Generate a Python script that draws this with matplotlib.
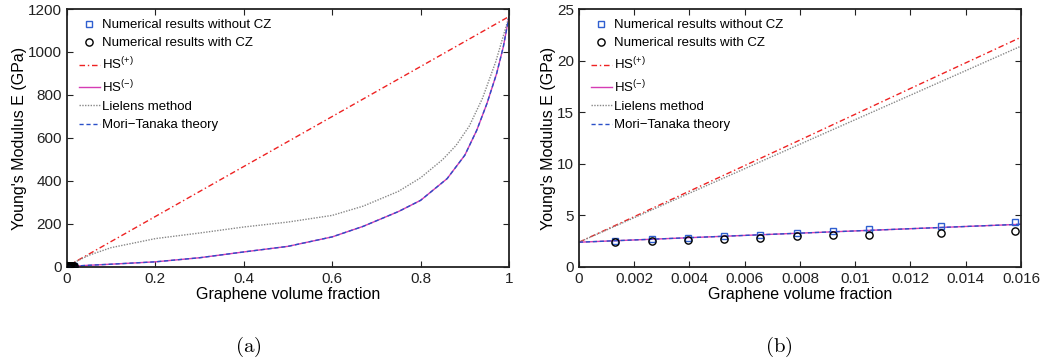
import numpy as np
import matplotlib
matplotlib.use('Agg')
import matplotlib.pyplot as plt
from matplotlib.ticker import FuncFormatter

plt.rcParams['font.family'] = ['Liberation Sans', 'DejaVu Sans']
plt.rcParams['mathtext.fontset'] = 'custom'
plt.rcParams['mathtext.rm'] = 'Liberation Sans'
plt.rcParams['mathtext.it'] = 'Liberation Sans:italic'
plt.rcParams['mathtext.bf'] = 'Liberation Sans:bold'

# --- numerical results (same points in both panels) ---
vf_num = [0.00131, 0.00263, 0.00394, 0.00525, 0.00656, 0.00788, 0.00919, 0.0105, 0.0131, 0.0158]
E_without_cz = [2.55, 2.68, 2.82, 3.00, 3.13, 3.33, 3.46, 3.68, 3.97, 4.38]
E_with_cz = [2.45, 2.55, 2.65, 2.75, 2.85, 2.97, 3.07, 3.13, 3.25, 3.50]

# --- panel (a): full range of volume fraction ---
vf_a_hs = [0.0, 1.0]
E_a_hs_plus = [2.4, 1165.0]
vf_a_li = [0.0, 0.016, 0.05, 0.1, 0.2, 0.3, 0.4, 0.5, 0.6, 0.67, 0.75, 0.8, 0.85,
           0.88, 0.91, 0.94, 0.97, 1.0]
E_a_lielens = [2.4, 21, 55, 90, 132, 158, 186, 209, 240, 283, 352, 415, 500,
               565, 655, 785, 955, 1165]
vf_a_mt = [0.0, 0.016, 0.05, 0.1, 0.2, 0.3, 0.4, 0.5, 0.6, 0.67, 0.75, 0.8, 0.86,
           0.9, 0.927, 0.95, 0.972, 0.987, 1.0]
E_a_mt = [2.4, 4.2, 8, 13, 24, 43, 70, 96, 140, 189, 258, 310, 411,
          520, 636, 760, 900, 1023, 1165]

# --- panel (b): low volume fraction ---
vf_b = [0.0, 0.004, 0.008, 0.012, 0.016]
E_b_hs_plus = [2.4, 7.35, 12.3, 17.3, 22.26]
E_b_lielens = [2.4, 7.15, 11.9, 16.65, 21.4]
E_b_mt = [2.4, 2.84, 3.28, 3.71, 4.14]

c_sq = '#2f5fd0'
c_red = '#ee2222'
c_mag = '#d63cb4'
c_gray = '#888888'
c_mt = '#2a50c8'

fig = plt.figure(figsize=(10.45, 3.63), dpi=100)
ax_a = fig.add_axes([0.0641, 0.2645, 0.423, 0.7107])
ax_b = fig.add_axes([0.554, 0.2645, 0.423, 0.7107])


def dibujar(ax, vf_hs, hs_plus, vf_li, lielens, vf_mt, mt):
    h_hs, = ax.plot(vf_hs, hs_plus, color=c_red, ls=(0, (4, 2, 1, 2)), lw=1.0, label='HS$^{(+)}$')
    h_hsm, = ax.plot(vf_mt, mt, color=c_mag, ls='-', lw=1.0, label='HS$^{(-)}$')
    h_li, = ax.plot(vf_li, lielens, color=c_gray, ls=(0, (1, 1)), lw=1.0, label='Lielens method')
    h_mt, = ax.plot(vf_mt, mt, color=c_mt, ls=(0, (3, 2)), lw=1.0, label='Mori\u2212Tanaka theory')
    h_sq, = ax.plot(vf_num, E_without_cz, ls='none', marker='s', ms=4.2, mfc='none', mec=c_sq,
                    mew=1.0, label='Numerical results without CZ', zorder=4)
    h_ci, = ax.plot(vf_num, E_with_cz, ls='none', marker='o', ms=5.2, mfc='none', mec='black',
                    mew=1.0, label='Numerical results with CZ', zorder=4)
    ax.legend(handles=[h_sq, h_ci, h_hs, h_hsm, h_li, h_mt], loc='upper left',
              bbox_to_anchor=(0.015, 0.982), frameon=False, fontsize=9.5, handlelength=1.6,
              handletextpad=0.15, labelspacing=0.46, borderaxespad=0, numpoints=1)
    ax.tick_params(direction='in', top=True, right=True, length=4, labelsize=11, pad=3.5,
                   colors='#222222')
    for s in ax.spines.values():
        s.set_linewidth(1.3)
        s.set_color('#222222')
    ax.set_xlabel('Graphene volume fraction', fontsize=11.5, labelpad=1)
    ax.set_ylabel("Young's Modulus E (GPa)", fontsize=11.5, labelpad=1)
    ax.xaxis.set_major_formatter(FuncFormatter(lambda v, p: '%g' % round(v, 6)))
    ax.yaxis.set_major_formatter(FuncFormatter(lambda v, p: '%g' % round(v, 6)))


dibujar(ax_a, vf_a_hs, E_a_hs_plus, vf_a_li, E_a_lielens, vf_a_mt, E_a_mt)
ax_a.set_xlim(0, 1)
ax_a.set_ylim(0, 1200)
ax_a.set_xticks(np.arange(0, 1.01, 0.2))
ax_a.set_yticks(np.arange(0, 1201, 200))

dibujar(ax_b, vf_b, E_b_hs_plus, vf_b, E_b_lielens, vf_b, E_b_mt)
ax_b.set_xlim(0, 0.016)
ax_b.set_ylim(0, 25)
ax_b.set_xticks(np.arange(0, 0.0161, 0.002))
ax_b.set_yticks(np.arange(0, 26, 5))

fig.text(0.238, 0.044, r'$\mathrm{(a)}$', ha='center', va='center', fontsize=15, math_fontfamily='cm')
fig.text(0.745, 0.044, r'$\mathrm{(b)}$', ha='center', va='center', fontsize=15, math_fontfamily='cm')

fig.savefig('out.png', dpi=100)
